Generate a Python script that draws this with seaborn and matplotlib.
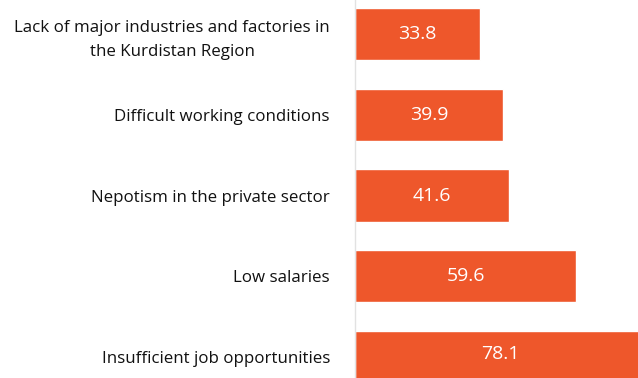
import matplotlib
matplotlib.use("Agg")
import matplotlib.pyplot as plt
import seaborn as sns
import pandas as pd

categories = [
    "Lack of major industries and factories in\nthe Kurdistan Region",
    "Difficult working conditions",
    "Nepotism in the private sector",
    "Low salaries",
    "Insufficient job opportunities",
]
values = [33.8, 39.9, 41.6, 59.6, 78.1]

df = pd.DataFrame({"reason": categories, "pct": values})

sns.set_theme(style="white")
plt.rcParams["font.family"] = ["Open Sans", "DejaVu Sans"]

W, H = 638, 378
fig = plt.figure(figsize=(W / 100, H / 100), dpi=100)
px_per_unit = 3.71
x0 = 355
xmax = 80
ax = fig.add_axes([x0 / W, 0, xmax * px_per_unit / W, 1])

sns.barplot(data=df, y="reason", x="pct", orient="h", color="#EE572B",
            saturation=1, width=0.645, ax=ax)

ax.set_xlim(0, xmax)
ax.set_ylim(4.26, -0.421)
ax.set_xlabel("")
ax.set_ylabel("")
ax.set_xticks([])
ax.tick_params(axis="y", length=0, pad=18, labelsize=12.2, labelcolor="#111111")
for lbl in ax.get_yticklabels():
    lbl.set_multialignment("center")
    lbl.set_linespacing(1.65)

for s in ["top", "right", "bottom"]:
    ax.spines[s].set_visible(False)
ax.spines["left"].set_color("#e2e2e2")
ax.spines["left"].set_linewidth(1.0)

for c in ax.containers:
    ax.bar_label(c, labels=[f"{v:.1f}" for v in values], label_type="center",
                 color="white", fontsize=14)

fig.savefig("out.png", dpi=100)
